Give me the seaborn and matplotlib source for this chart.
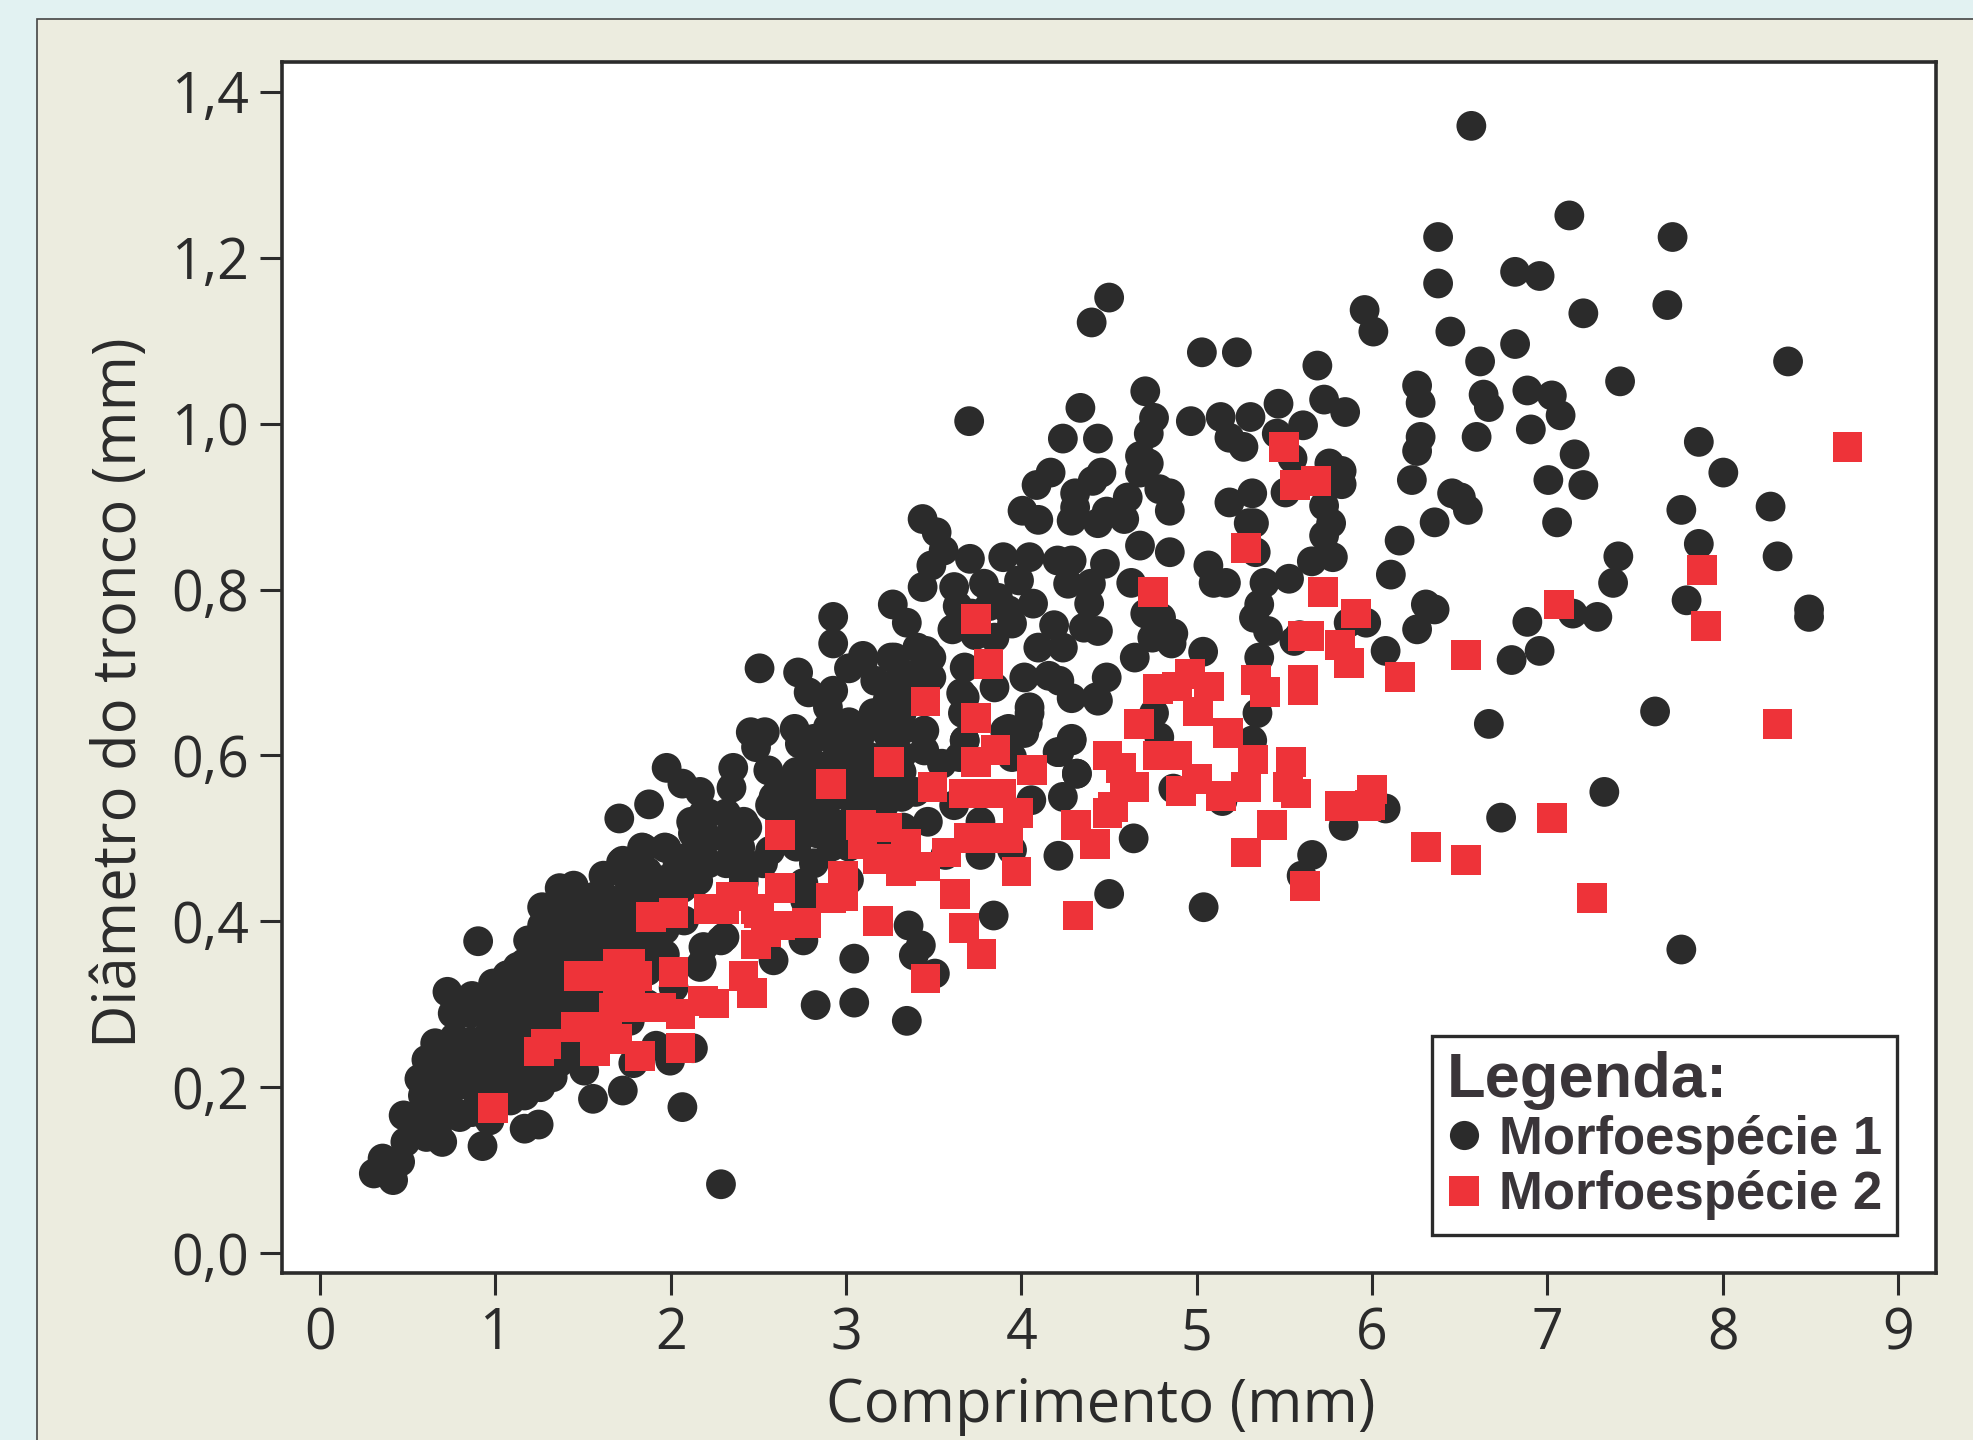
import numpy as np
import pandas as pd
import matplotlib
matplotlib.use('Agg')
import matplotlib.pyplot as plt
from matplotlib.patches import Rectangle
import seaborn as sns

# valores (comprimento, diametro)
m1_right = [(6.58,1.359),(7.14,1.251),(7.73,1.225),(6.39,1.225),(6.39,1.169),(6.83,1.183),(6.97,1.178),(7.22,1.133),
    (7.70,1.143),(5.97,1.137),(6.02,1.111),(6.46,1.111),(4.51,1.152),(4.41,1.122),(5.04,1.086),(5.24,1.086),(5.70,1.070),
    (6.63,1.075),(6.83,1.096),(8.39,1.075),(7.43,1.051),(6.27,1.046),(6.29,1.025),(6.65,1.035),(6.68,1.020),(6.90,1.040),
    (7.04,1.034),(7.09,1.010),(6.92,0.993),(6.61,0.984),(6.29,0.984),(6.27,0.967),(7.17,0.963),(7.88,0.978),(8.02,0.941),
    (6.24,0.932),(7.02,0.932),(7.22,0.926),(6.47,0.916),(6.52,0.911),(6.56,0.896),(6.37,0.881),(7.07,0.881),(7.78,0.896),
    (8.29,0.900),(6.17,0.859),(7.88,0.855),(7.42,0.840),(8.33,0.840),(6.12,0.818),(7.39,0.808),(6.32,0.782),(6.37,0.776),
    (6.27,0.752),(7.81,0.787),(6.90,0.761),(7.16,0.771),(7.30,0.767),(8.51,0.776),(8.51,0.767),(6.09,0.726),(6.81,0.715),
    (6.97,0.726),(6.68,0.638),(7.63,0.653),(7.34,0.556),(6.75,0.525),(5.85,0.515),(6.09,0.536),(7.78,0.366),(5.67,0.480),
    (5.61,0.455),(5.05,0.417),(4.51,0.433),(3.85,0.407),(4.22,0.479),(4.65,0.500),(3.71,1.003)]
m1_upper = [(4.32,1.019),(4.22,0.982),(4.42,0.982),(4.69,1.039),(4.74,1.007),(4.71,0.988),(4.66,0.961),(4.71,0.952),(4.66,0.941),
    (4.15,0.941),(4.07,0.926),(3.99,0.895),(4.08,0.884),(4.44,0.941),(4.39,0.931),(4.29,0.916),(4.29,0.899),(4.27,0.883),
    (4.59,0.911),(4.47,0.894),(4.57,0.885),(4.42,0.880),(4.77,0.921),(4.83,0.916),(4.83,0.895),(4.95,1.003),(5.12,1.008),
    (5.29,1.008),(5.45,1.024),(5.71,1.029),(5.83,1.014),(5.59,0.998),(5.44,0.988),(5.53,0.958),(5.17,0.983),(5.25,0.972),
    (5.49,0.917),(5.17,0.905),(5.30,0.916),(5.28,0.880),(5.31,0.880),(5.32,0.845),(5.74,0.952),(5.81,0.943),(5.81,0.927),
    (5.71,0.901),(5.75,0.880),(5.71,0.865),(5.76,0.839),(5.64,0.834),(5.51,0.813),(5.37,0.808),(5.34,0.782),(5.31,0.766),
    (5.39,0.750),(5.54,0.738),(5.34,0.718),(5.33,0.651),(5.30,0.618),(5.05,0.829),(5.08,0.808),(5.15,0.808),(5.02,0.725),
    (4.83,0.845),(4.66,0.853),(4.61,0.808),(4.69,0.771),(4.78,0.766),(4.73,0.742),(4.85,0.747),(4.63,0.718),(4.84,0.735),
    (4.19,0.835),(4.27,0.835),(4.46,0.831),(4.25,0.807),(4.38,0.807),(4.37,0.783),(4.34,0.754),(4.42,0.750),(4.17,0.757),
    (4.08,0.730),(4.22,0.730),(4.03,0.839),(3.88,0.839),(3.69,0.837),(3.47,0.829),(3.42,0.885),(3.50,0.869),(3.54,0.847),
    (3.42,0.803),(3.60,0.803),(3.77,0.807),(3.97,0.811),(4.05,0.783),(3.25,0.782),(3.33,0.760),(3.08,0.720),(3.22,0.682),
    (3.24,0.718),(3.39,0.730),(3.47,0.718),(3.47,0.694),(3.59,0.752),(3.66,0.706),(3.83,0.742),(3.93,0.759),(3.70,0.771),
    (3.91,0.775),(3.64,0.675),(3.83,0.682),(4.00,0.694),(4.14,0.696),(4.20,0.690),(4.27,0.669),(4.42,0.666),(4.47,0.694),
    (4.03,0.658),(4.02,0.639),(3.91,0.632),(4.27,0.618),(3.14,0.651),(3.42,0.628),(3.66,0.618),(4.74,0.651),(4.77,0.622),
    (4.41,0.670),(4.00,0.627),(4.30,0.578),(4.22,0.550),(4.19,0.604),(4.85,0.560),(5.13,0.545),(5.57,0.745),(5.85,0.760),(5.95,0.760),
    (3.30,0.700),(3.40,0.700),(3.15,0.690),(3.30,0.670),(3.62,0.780),(3.80,0.780),(3.85,0.790),(3.72,0.745)]
m1_band = [(2.91,0.767),(2.91,0.735),(2.49,0.705),(2.71,0.700),(2.77,0.676),(2.91,0.678),(2.88,0.658),(2.88,0.634),(3.08,0.714),
    (3.00,0.705),(3.26,0.718),(3.44,0.726),(3.22,0.666),(3.37,0.690),(2.44,0.628),(2.52,0.628),(2.69,0.632),(2.72,0.614),
    (2.47,0.610),(1.96,0.585),(2.05,0.566),(2.15,0.556),(2.34,0.585),(2.33,0.561),(2.54,0.582),(2.57,0.550),(2.72,0.570),
    (3.07,0.626),(3.14,0.646),(3.22,0.626),(2.91,0.618),(3.03,0.594),(3.11,0.578),(2.88,0.561),(2.72,0.537),(2.82,0.506),
    (3.03,0.546),(2.42,0.513),(2.17,0.530),(2.11,0.506),(2.38,0.489),(2.55,0.485),(2.91,0.506),(1.86,0.541),(1.69,0.524),
    (1.83,0.488),(1.96,0.488),(1.70,0.471),(2.02,0.465),(2.15,0.489),(2.14,0.449),(2.74,0.446),(2.75,0.425),(2.40,0.446),
    (2.51,0.470),(3.43,0.630),(3.43,0.606),(3.53,0.590),(3.66,0.670),(3.65,0.651),(3.89,0.630),(4.03,0.651),(3.66,0.618),
    (3.63,0.598),(3.93,0.598),(4.27,0.620),(4.20,0.604),(4.30,0.578),(4.04,0.546),(3.38,0.556),(3.31,0.513),(3.93,0.486),
    (3.34,0.395),(3.41,0.371),(3.37,0.359),(3.49,0.337),(3.03,0.355),(2.74,0.377),(2.57,0.353),(2.81,0.299),(3.03,0.302),
    (2.29,0.381),(2.17,0.369),(2.15,0.345),(2.40,0.453),(2.55,0.540),(2.80,0.470),(2.95,0.570),(3.20,0.560),(3.45,0.520),
    (3.60,0.540),(3.75,0.520),(3.55,0.480),(3.75,0.480),(3.00,0.450),(3.20,0.500),(2.65,0.500),(2.27,0.377),(2.06,0.401),
    (2.16,0.349),(3.33,0.280),(2.60,0.530),(2.60,0.560),(2.70,0.490),(2.70,0.520),(2.70,0.550),(2.70,0.580),(2.80,0.530),
    (2.80,0.560),(2.80,0.590),(2.80,0.620),(2.90,0.490),(2.90,0.520),(2.90,0.550),(2.90,0.590),(3.00,0.490),(3.00,0.520),
    (3.00,0.550),(3.00,0.580),(3.00,0.610),(3.00,0.640),(3.10,0.500),(3.10,0.530),(3.10,0.560),(3.10,0.600),(3.20,0.510),
    (3.20,0.540),(3.20,0.600),(3.20,0.640),(3.30,0.550),(3.30,0.580),(3.30,0.600),(3.30,0.630),(3.30,0.650),(2.10,0.480),
    (2.10,0.520),(2.20,0.470),(2.20,0.500),(2.20,0.530),(2.30,0.470),(2.30,0.500),(2.30,0.530),(2.40,0.470),(2.40,0.520)]
m1_low = [(0.29,0.096),(0.40,0.088),(0.44,0.110),(0.34,0.114),(0.47,0.134),(0.68,0.134),(0.59,0.140),(0.46,0.166),(0.78,0.164),
    (0.57,0.190),(0.59,0.233),(0.64,0.253),(0.74,0.289),(0.71,0.315),(0.84,0.289),(0.885,0.376),(0.97,0.325),(1.11,0.345),
    (1.17,0.377),(1.25,0.417),(1.35,0.440),(1.43,0.443),(1.60,0.455),(1.71,0.473),(1.82,0.489),(1.95,0.489),(1.31,0.212),
    (1.24,0.200),(1.07,0.184),(0.95,0.160),(1.49,0.220),(0.91,0.129),(1.15,0.150),(1.23,0.155),(1.54,0.186),(1.71,0.196),
    (2.05,0.176),(2.27,0.083),(1.98,0.232),(2.11,0.247),(1.77,0.229),
    (0.55,0.160),(0.55,0.210),(0.65,0.150),(0.65,0.180),(0.65,0.210),(0.65,0.240),(0.75,0.170),(0.75,0.200),(0.75,0.230),
    (0.75,0.260),(0.85,0.170),(0.85,0.200),(0.85,0.225),(0.85,0.255),(0.85,0.310),(0.95,0.180),(0.95,0.210),(0.95,0.235),
    (0.95,0.265),(0.95,0.295),(1.05,0.200),(1.05,0.230),(1.05,0.260),(1.05,0.285),(1.05,0.310),(1.05,0.335),(1.15,0.190),
    (1.15,0.220),(1.15,0.250),(1.15,0.275),(1.15,0.300),(1.15,0.325),(1.15,0.350),(1.25,0.210),(1.25,0.240),(1.25,0.265),
    (1.25,0.290),(1.25,0.320),(1.25,0.350),(1.25,0.375),(1.25,0.395),(1.35,0.230),(1.35,0.260),(1.35,0.280),(1.35,0.310),
    (1.35,0.335),(1.35,0.360),(1.35,0.390),(1.35,0.420),(1.45,0.240),(1.45,0.270),(1.45,0.300),(1.45,0.325),(1.45,0.355),
    (1.45,0.385),(1.45,0.415),(1.55,0.250),(1.55,0.290),(1.55,0.315),(1.55,0.345),(1.55,0.375),(1.55,0.400),(1.55,0.430),
    (1.65,0.260),(1.65,0.300),(1.65,0.330),(1.65,0.365),(1.65,0.395),(1.65,0.425),(1.75,0.280),(1.75,0.320),(1.75,0.360),
    (1.75,0.385),(1.75,0.415),(1.75,0.445),(1.85,0.300),(1.85,0.340),(1.85,0.370),(1.85,0.400),(1.85,0.430),(1.85,0.460),
    (1.95,0.360),(1.95,0.390),(1.95,0.420),(1.95,0.450),(2.05,0.440),(1.90,0.250),(2.00,0.320)]
m2_points = [(0.99,0.175),(1.25,0.243),(1.29,0.252),(1.48,0.334),(1.46,0.273),(1.50,0.273),(1.57,0.243),(1.70,0.349),(1.63,0.334),
    (1.77,0.349),(1.70,0.319),(1.77,0.319),(1.81,0.334),(1.68,0.296),(1.75,0.296),(1.64,0.273),(1.70,0.258),(1.83,0.238),
    (1.95,0.296),(1.88,0.296),(2.02,0.339),(2.06,0.247),(2.06,0.288),(2.19,0.304),(2.25,0.301),(1.89,0.405),(2.02,0.410),
    (2.22,0.415),(2.35,0.430),(2.42,0.430),(2.31,0.415),(2.49,0.415),(2.42,0.334),(2.47,0.314),(2.51,0.410),(2.49,0.372),
    (2.55,0.387),(2.63,0.395),(2.63,0.440),(2.78,0.398),(2.92,0.428),(2.99,0.430),(2.99,0.455),(3.09,0.516),(3.10,0.493),
    (3.19,0.475),(3.24,0.513),(3.35,0.493),(3.32,0.460),(3.19,0.400),(3.46,0.466),(3.58,0.483),(3.46,0.331),(3.68,0.392),
    (3.78,0.361),(3.63,0.433),(3.98,0.460),(3.71,0.500),(3.82,0.500),(3.93,0.500),(3.99,0.531),(3.89,0.554),(3.75,0.554),
    (3.68,0.554),(3.50,0.562),(3.75,0.592),(3.86,0.607),(3.75,0.645),(4.07,0.582),(3.46,0.665),(3.82,0.710),(3.75,0.764),
    (3.25,0.592),(2.92,0.566),(2.63,0.504),(4.33,0.407),(4.43,0.493),(4.32,0.516),(4.50,0.531),(4.53,0.538),(4.60,0.562),
    (4.50,0.600),(4.58,0.585),(4.65,0.562),(4.68,0.638),(4.76,0.797),(4.79,0.680),(4.97,0.698),(4.90,0.683),(5.08,0.683),
    (5.02,0.653),(5.19,0.627),(4.79,0.600),(4.90,0.600),(5.01,0.572),(4.92,0.557),(5.15,0.551),(5.29,0.562),(5.33,0.595),
    (5.35,0.691),(5.40,0.676),(5.29,0.483),(5.44,0.516),(5.55,0.592),(5.53,0.562),(5.58,0.554),(5.62,0.691),(5.62,0.679),
    (5.83,0.539),(5.98,0.539),(6.01,0.559),(6.00,0.540),(5.63,0.443),(5.29,0.850),(5.51,0.972),(5.57,0.926),(5.69,0.931),
    (5.73,0.797),(5.62,0.744),(5.65,0.744),(5.83,0.733),(5.88,0.711),(5.92,0.771),(6.17,0.695),(6.55,0.721),(6.32,0.490),
    (6.55,0.474),(7.04,0.525),(7.08,0.782),(7.27,0.428),(7.90,0.824),(7.92,0.756),(8.33,0.638),(8.73,0.972)]
x_ticks = list(range(0, 10))
y_ticks = [0.0, 0.2, 0.4, 0.6, 0.8, 1.0, 1.2, 1.4]
y_labels = ['0,0', '0,2', '0,4', '0,6', '0,8', '1,0', '1,2', '1,4']

# correcoes de leitura: zero deslocado nos recortes, escala 139,2 px por unidade na imagem reduzida
m1_zoomed = [(x + 0.017, y) for x, y in m1_upper + m1_band + m1_low]
m1_wide = [(x * 0.998, y) for x, y in m1_right]
m2_wide = [(x * 0.998, y) for x, y in m2_points]
m1_points = m1_wide + m1_zoomed
df = pd.DataFrame(m1_points + m2_wide, columns=['comprimento', 'diametro'])
df['especie'] = ['Morfoespécie 1'] * len(m1_points) + ['Morfoespécie 2'] * len(m2_wide)

W, H = 1974, 1440
DARK = '#2B2B2B'
plt.rcParams['font.family'] = ['Open Sans', 'DejaVu Sans']

fig = plt.figure(figsize=(W / 100, H / 100), dpi=100, facecolor='#E2F2F2')
fig.add_artist(Rectangle((37 / W, -0.01), 1, 1 - 19 / H + 0.01, transform=fig.transFigure,
                         facecolor='#ECECDF', edgecolor='#444444', linewidth=1.2, zorder=-1))
ax = fig.add_axes([282 / W, 1 - 1273 / H, (1936 - 282) / W, (1273 - 62) / H])

sns.scatterplot(data=df, x='comprimento', y='diametro', hue='especie', style='especie',
                palette=[DARK, '#EE3339'], markers=['o', 's'], s=460, linewidth=0, ax=ax, legend=False)

ax.set_xlim(-0.2167, 9.217)
ax.set_ylim(-0.024, 1.436)
ax.set_xticks(x_ticks)
ax.set_yticks(y_ticks)
ax.set_yticklabels(y_labels)
ax.tick_params(length=16, width=2.2, color=DARK, labelcolor=DARK, labelsize=40, pad=8)
for s in ax.spines.values():
    s.set_linewidth(2.6)
    s.set_color(DARK)
ax.set_xlabel('Comprimento (mm)', fontsize=43, color=DARK, va='center')
ax.set_ylabel('Diâmetro do tronco (mm)', fontsize=43, color=DARK, va='center')
ax.xaxis.set_label_coords(0.495, -0.110)
ax.yaxis.set_label_coords(-0.098, 0.479)

# legenda
handles = [plt.Line2D([], [], marker='o', ls='', color=DARK, ms=21, mew=0),
           plt.Line2D([], [], marker='s', ls='', color='#EE3339', ms=21, mew=0)]
leg = ax.legend(handles, ['Morfoespécie 1', 'Morfoespécie 2'], title='Legenda:', alignment='left',
                loc='lower right', bbox_to_anchor=(1897 / W, 1 - 1235 / H), bbox_transform=fig.transFigure,
                fancybox=False, framealpha=1, edgecolor=DARK, borderaxespad=0, borderpad=0.28,
                handletextpad=0.35, labelspacing=0.10, handlelength=0.63,
                prop={'family': 'Liberation Sans', 'weight': 'bold', 'size': 38},
                title_fontproperties={'family': 'Liberation Sans', 'weight': 'bold', 'size': 45.5})
leg.get_frame().set_linewidth(2.4)
for t in leg.get_texts() + [leg.get_title()]:
    t.set_color('#3A3539')

fig.savefig('out.png', dpi=100, facecolor=fig.get_facecolor())
